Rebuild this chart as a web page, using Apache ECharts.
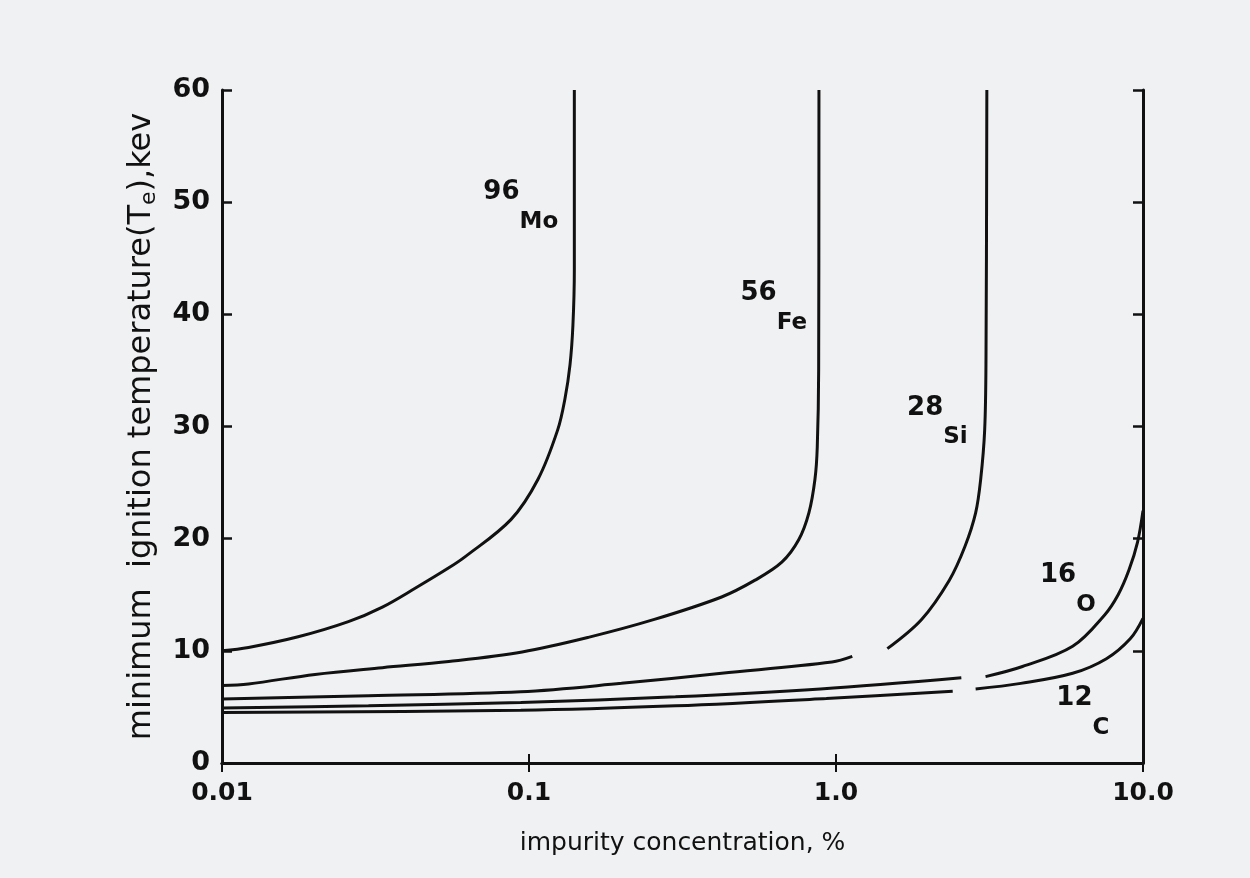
<!DOCTYPE html>
<html>
<head>
<meta charset="utf-8">
<script src="https://cdn.jsdelivr.net/npm/echarts@6/dist/echarts.min.js"></script>
<style>
  html, body { margin: 0; padding: 0; background: #f0f1f3; }
  #main { width: 1250px; height: 878px; }
</style>
</head>
<body>
<div id="main"></div>
<script>
// impurity concentration (%) vs minimum ignition temperature (keV)
var mo96 = [[0.01, 10.0], [0.0122, 10.3], [0.0177, 11.25], [0.0258, 12.6], [0.0333, 13.9], [0.0427, 15.6],
            [0.0548, 17.4], [0.062, 18.4], [0.0873, 21.7], [0.107, 25.3], [0.124, 29.7], [0.131, 32.5],
            [0.136, 35.5], [0.139, 39], [0.1405, 44], [0.1405, 60]];
var fe56 = [[0.01, 6.9], [0.0122, 7.05], [0.0201, 7.9], [0.0333, 8.5], [0.0548, 9.05], [0.095, 9.9],
            [0.156, 11.2], [0.256, 12.8], [0.424, 14.8], [0.545, 16.3], [0.666, 17.9], [0.756, 19.9],
            [0.816, 22.3], [0.854, 25.3], [0.869, 28.2], [0.878, 35], [0.88, 60]];
var si28 = [[0.01, 5.7], [0.03, 6.0], [0.094, 6.35], [0.2, 7.1], [0.424, 8.0], [0.97, 9.0], [1.13, 9.5],
            [1.3, null],
            [1.47, 10.2], [1.9, 12.8], [2.34, 16.3], [2.63, 19.3], [2.85, 22.3], [2.96, 25.3],
            [3.05, 29.7], [3.08, 36], [3.1, 60]];
var o16 = [[0.01, 4.9], [0.03, 5.1], [0.094, 5.4], [0.3, 5.9], [0.89, 6.6], [2.56, 7.6],
           [2.8, null],
           [3.07, 7.7], [4.05, 8.6], [5.9, 10.4], [7.5, 13.2], [8.3, 15.0], [9.0, 17.2], [9.6, 19.7], [10, 22.5]];
var c12 = [[0.01, 4.5], [0.094, 4.7], [0.3, 5.1], [0.93, 5.75], [2.4, 6.4],
           [2.6, null],
           [2.85, 6.6], [4.0, 7.1], [5.9, 8.0], [7.6, 9.3], [9.1, 11.1], [10, 12.9]];

var seriesNames = ['96Mo', '56Fe', '28Si', '16O', '12C'];
var curves = [mo96, fe56, si28, o16, c12];

// curve labels: [mass number, element, concentration, temperature]
var tags = [['96', 'Mo', 0.094, 49.6], ['56', 'Fe', 0.627, 40.6], ['28', 'Si', 2.14, 30.4],
            ['16', 'O', 5.69, 15.5], ['12', 'C', 6.37, 4.5]];

var xTicks = {'-2': '0.01', '-1': '0.1', '0': '1.0', '1': '10.0'};

var ink = '#111111';
var font = 'DejaVu Sans';

var chart = echarts.init(document.getElementById('main'));

var series = curves.map(function (d, i) {
    return {
        name: seriesNames[i],
        type: 'line',
        data: d,
        showSymbol: false,
        smooth: 0.35,
        connectNulls: false,
        lineStyle: { color: ink, width: 3 },
        silent: true
    };
});
series.push({
    type: 'scatter',
    symbolSize: 0,
    itemStyle: { color: ink, opacity: 1 },
    data: tags.map(function (t) { return { value: [t[2], t[3]], mass: t[0], el: t[1] }; }),
    label: {
        show: true,
        position: 'inside',
        color: ink,
        opacity: 1,
        textBorderWidth: 0,
        formatter: function (p) { return '{n|' + p.data.mass + '}{s|' + p.data.el + '}'; },
        rich: {
            n: { fontFamily: font, fontSize: 26, fontWeight: 'bold', color: ink, verticalAlign: 'top', lineHeight: 54 },
            s: { fontFamily: font, fontSize: 23, fontWeight: 'bold', color: ink, verticalAlign: 'bottom', lineHeight: 54 }
        }
    },
    emphasis: { disabled: true },
    silent: true
});

var option = {
    backgroundColor: '#f0f1f3',
    animation: false,
    grid: { left: 222, right: 107, top: 90, bottom: 115 },
    xAxis: [{
        type: 'log',
        logBase: 10,
        min: 0.01,
        max: 10,
        position: 'bottom',
        name: 'impurity concentration, %',
        nameLocation: 'middle',
        nameGap: 68,
        nameTextStyle: { fontFamily: font, fontSize: 25, color: ink },
        axisLine: { lineStyle: { color: ink, width: 3 } },
        axisTick: { inside: true, length: 9, lineStyle: { color: ink, width: 2 } },
        minorTick: { show: false },
        splitLine: { show: false },
        axisLabel: {
            fontFamily: font, fontSize: 25, fontWeight: 'bold', color: ink, margin: 18,
            formatter: function (v) { return xTicks[Math.round(Math.log10(v))]; }
        }
    }, {
        type: 'log',
        logBase: 10,
        min: 0.01,
        max: 10,
        position: 'top',
        axisLine: { lineStyle: { color: ink, width: 3 } },
        axisTick: { inside: true, length: 9, lineStyle: { color: ink, width: 2 } },
        splitLine: { show: false },
        axisLabel: { show: false }
    }],
    yAxis: [{
        type: 'value',
        min: 0,
        max: 60,
        interval: 10,
        position: 'left',
        name: 'minimum  ignition temperature(T{sub|e}),kev',
        nameLocation: 'middle',
        nameGap: 62,
        nameTextStyle: {
            fontFamily: font, fontSize: 32, color: ink,
            rich: { sub: { fontFamily: font, fontSize: 22, color: ink, padding: [14, 0, 0, 0] } }
        },
        axisLine: { lineStyle: { color: ink, width: 3 } },
        axisTick: { inside: true, length: 10, lineStyle: { color: ink, width: 2.5 } },
        splitLine: { show: false },
        axisLabel: { fontFamily: font, fontSize: 27, fontWeight: 'bold', color: ink, margin: 12 }
    }, {
        type: 'value',
        min: 0,
        max: 60,
        interval: 10,
        position: 'right',
        axisLine: { show: true, lineStyle: { color: ink, width: 3 } },
        axisTick: { show: true, inside: true, length: 10, lineStyle: { color: ink, width: 2.5 } },
        splitLine: { show: false },
        axisLabel: { show: false }
    }],
    series: series
};

chart.setOption(option);
</script>
</body>
</html>
